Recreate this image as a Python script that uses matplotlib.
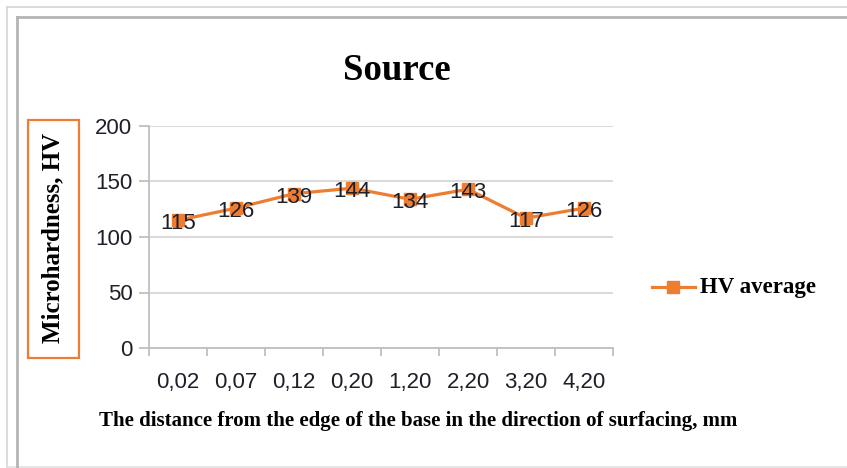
import matplotlib
matplotlib.use("Agg")
import matplotlib.pyplot as plt
from matplotlib.patches import Rectangle
from matplotlib.lines import Line2D

W, H = 847, 468
CL_ORANGE = "#ED7D31"
CL_GRID = "#D9D9D9"
CL_TEXT = "#1f1f2a"

categories = ["0,02", "0,07", "0,12", "0,20", "1,20", "2,20", "3,20", "4,20"]
hv_average = [115, 126, 139, 144, 134, 143, 117, 126]
y_ticks = [0, 50, 100, 150, 200]

fig = plt.figure(figsize=(W / 100, H / 100), dpi=100)
fig.patch.set_facecolor("white")


def px(x, y):
    # pixel coords (top-left origin) -> figure fraction
    return x / W, 1 - y / H


# frames round the chart
def fline(x0, y0, x1, y1, color, lw):
    a, b = px(x0, y0)
    c, d = px(x1, y1)
    fig.add_artist(Line2D([a, c], [b, d], transform=fig.transFigure, color=color, lw=lw))


fline(7, 7, 847, 7, "#d4d4d4", 1.2)
fline(7, 7, 7, 468, "#d4d4d4", 1.2)
fline(7, 467, 847, 467, "#e0e0e0", 1.2)
fline(17, 16.5, 847, 16.5, "#b4b4b4", 2.0)
fline(17, 16.5, 17, 468, "#b4b4b4", 2.0)

# plot area
l, t = px(149, 126)
r, b = px(613, 348)
ax = fig.add_axes([l, b, r - l, t - b])

x = list(range(len(categories)))
ax.plot(x, hv_average, color=CL_ORANGE, lw=2.3, marker="s", markersize=8.5,
        markerfacecolor=CL_ORANGE, markeredgecolor=CL_ORANGE, zorder=3)
for xi, v in zip(x, hv_average):
    ax.text(xi, v - 3, str(v), ha="center", va="center", fontsize=16,
            family="Liberation Sans", color=CL_TEXT, zorder=4)

ax.set_xlim(-0.5, len(categories) - 0.5)
ax.set_ylim(0, 200)
ax.set_yticks(y_ticks)
ax.set_yticklabels([str(v) for v in y_ticks], fontsize=16, family="Liberation Sans", color=CL_TEXT)
ax.set_xticks([i - 0.5 for i in range(len(categories) + 1)])
ax.set_xticklabels([])
ax.set_xticks(x, minor=True)
ax.set_xticklabels(categories, minor=True, fontsize=16, family="Liberation Sans", color=CL_TEXT)
ax.tick_params(axis="x", which="minor", length=0, pad=17)
ax.tick_params(axis="x", which="major", length=6, color="#bfbfbf", width=1.3)
ax.tick_params(axis="y", length=7, color="#bfbfbf", width=1.3, pad=5)

ax.grid(axis="y", color=CL_GRID, lw=1.4)
ax.set_axisbelow(True)
for side in ["top", "right"]:
    ax.spines[side].set_visible(False)
ax.spines["left"].set_color("#bfbfbf")
ax.spines["left"].set_linewidth(1.3)
ax.spines["bottom"].set_color("#bfbfbf")
ax.spines["bottom"].set_linewidth(1.3)

# title
tx, ty = px(397, 70)
fig.text(tx, ty, "Source", ha="center", va="center", fontsize=26.5,
         family="Liberation Serif", fontweight="bold", color="black")

# y label in an orange box
bx0, by1 = px(28, 120)
bx1, by0 = px(79, 358)
fig.add_artist(Rectangle((bx0, by0), bx1 - bx0, by1 - by0, transform=fig.transFigure,
                         fill=False, edgecolor=CL_ORANGE, lw=1.6))
yx, yy = px(53, 238)
fig.text(yx, yy, "Microhardness, HV", rotation=90, ha="center", va="center",
         fontsize=18, family="Liberation Serif", fontweight="bold", color="black")

# x label
xx, xy = px(418, 421)
fig.text(xx, xy, "The distance from the edge of the base in the direction of surfacing, mm",
         ha="center", va="center", fontsize=15, family="Liberation Serif",
         fontweight="bold", color="black")

# legend
lx0, ly = px(652, 287)
lx1, _ = px(695, 287)
fig.add_artist(Line2D([lx0, lx1], [ly, ly], transform=fig.transFigure, color=CL_ORANGE, lw=2.3))
mx, _ = px(673, 287)
fig.add_artist(Line2D([mx], [ly], transform=fig.transFigure, marker="s", markersize=8.5,
                      color=CL_ORANGE))
tx2, _ = px(700, 287)
fig.text(tx2, ly, "HV average", ha="left", va="center", fontsize=16.5,
         family="Liberation Serif", fontweight="bold", color="black")

fig.savefig("out.png", dpi=100)
